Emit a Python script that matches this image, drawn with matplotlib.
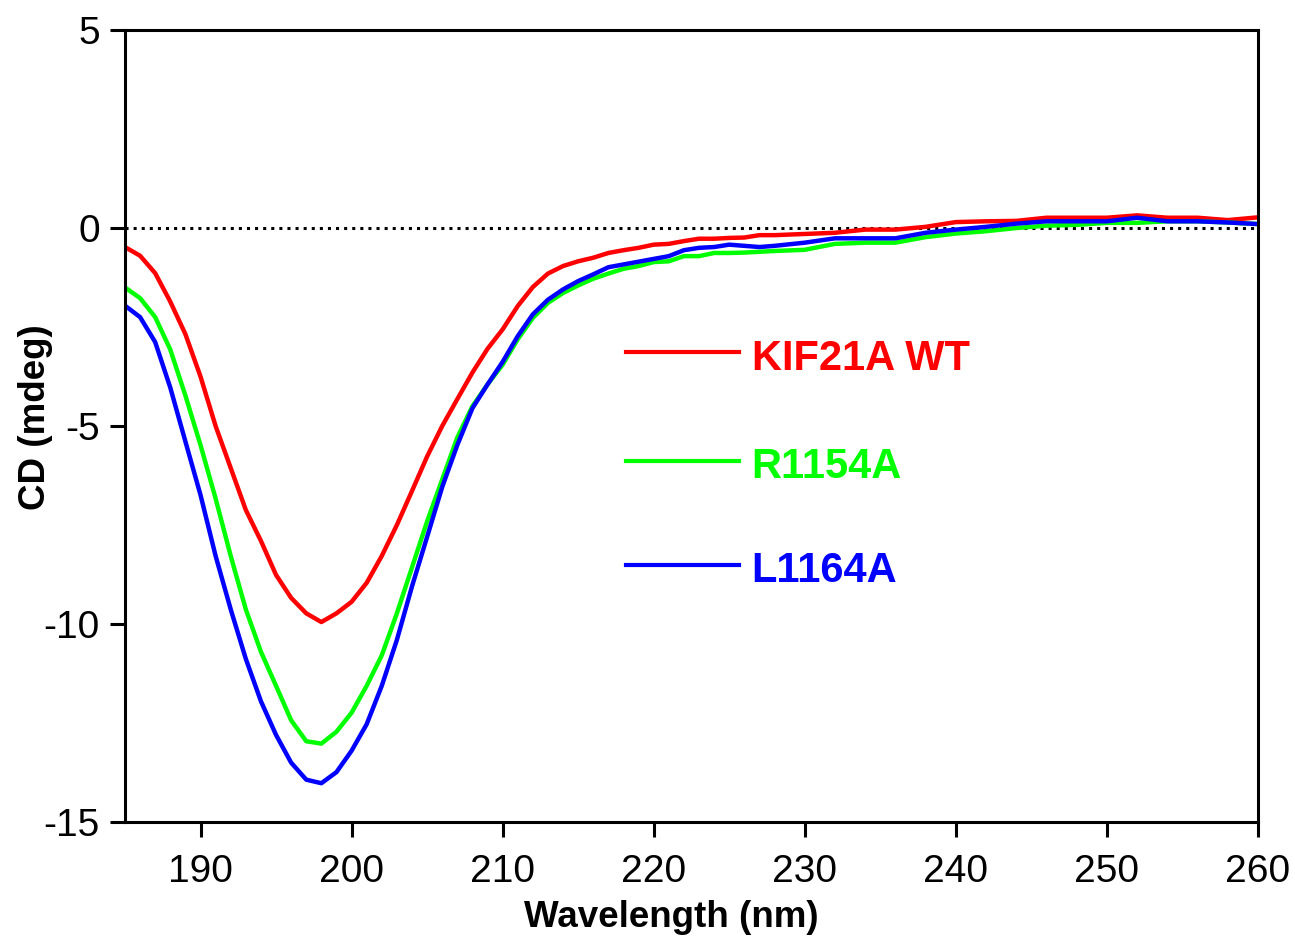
import numpy as np
import matplotlib
matplotlib.use('Agg')
import matplotlib.pyplot as plt

plt.rcParams['font.family'] = ['Liberation Sans', 'DejaVu Sans']
plt.rcParams['axes.unicode_minus'] = False

# Wavelength (nm)
wavelength = [185, 186, 187, 188, 189, 190, 191, 192, 193, 194, 195, 196, 197, 198,
              199, 200, 201, 202, 203, 204, 205, 206, 207, 208, 209, 210, 211, 212,
              213, 214, 215, 216, 217, 218, 219, 220, 221, 222, 223, 224, 225, 226,
              227, 228, 230, 232, 234, 236, 238, 240, 242, 244, 246, 248, 250, 252,
              254, 256, 258, 260]

# CD signal (mdeg)
wt = [-0.48, -0.70, -1.14, -1.86, -2.68, -3.75, -5.00, -6.06, -7.12, -7.90, -8.76, -9.34,
      -9.73, -9.95, -9.73, -9.44, -8.96, -8.28, -7.50, -6.64, -5.77, -5.00, -4.32, -3.65,
      -3.05, -2.56, -1.97, -1.49, -1.15, -0.96, -0.84, -0.75, -0.63, -0.56, -0.50, -0.42,
      -0.40, -0.33, -0.27, -0.27, -0.25, -0.24, -0.18, -0.18, -0.15, -0.12, -0.04, -0.04,
      0.03, 0.15, 0.17, 0.18, 0.26, 0.26, 0.26, 0.32, 0.26, 0.26, 0.20, 0.27]

r1154a = [-1.50, -1.77, -2.25, -3.07, -4.23, -5.48, -6.83, -8.28, -9.63, -10.70, -11.56,
          -12.43, -12.96, -13.02, -12.72, -12.24, -11.56, -10.79, -9.73, -8.57, -7.41,
          -6.35, -5.29, -4.50, -3.95, -3.45, -2.81, -2.27, -1.89, -1.64, -1.45, -1.28,
          -1.15, -1.03, -0.96, -0.86, -0.84, -0.71, -0.71, -0.63, -0.63, -0.62, -0.60,
          -0.58, -0.55, -0.40, -0.37, -0.37, -0.23, -0.14, -0.08, 0.00, 0.06, 0.08, 0.13,
          0.13, 0.17, 0.17, 0.14, 0.10]

l1164a = [-1.96, -2.25, -2.88, -4.03, -5.39, -6.74, -8.28, -9.63, -10.88, -11.95, -12.80,
          -13.50, -13.93, -14.02, -13.74, -13.20, -12.53, -11.56, -10.40, -9.05, -7.80,
          -6.54, -5.48, -4.55, -3.95, -3.38, -2.73, -2.18, -1.81, -1.55, -1.34, -1.17,
          -0.99, -0.92, -0.85, -0.78, -0.71, -0.56, -0.50, -0.48, -0.42, -0.45, -0.48,
          -0.45, -0.37, -0.26, -0.26, -0.26, -0.12, -0.04, 0.03, 0.11, 0.17, 0.17, 0.17,
          0.26, 0.17, 0.17, 0.14, 0.10]

labels = ['KIF21A WT', 'R1154A', 'L1164A']
colors = ['#ff0000', '#00ff00', '#0000ff']
series = [wt, r1154a, l1164a]

fig = plt.figure(figsize=(12.95, 9.44), dpi=100)
ax = fig.add_axes([0.0965, 0.1292, 0.8749, 0.839])

ax.axhline(0, color='black', linestyle=':', linewidth=2.2, zorder=1)
for y, c in zip(series, colors):
    ax.plot(wavelength, y, color=c, linewidth=3.2, zorder=2)

ax.set_xlim(185, 260)
ax.set_ylim(-15, 5)
ax.set_xticks([190, 200, 210, 220, 230, 240, 250, 260])
ax.set_yticks([-15, -10, -5, 0, 5])

for s in ax.spines.values():
    s.set_linewidth(2.2)
ax.tick_params(direction='out', length=11, width=2.2, labelsize=28,
               top=False, right=False)
ax.tick_params(axis='x', pad=12)
ax.tick_params(axis='y', pad=7)

ax.set_xlabel('Wavelength (nm)', fontsize=26.5, fontweight='bold', va='center')
ax.set_ylabel('CD (mdeg)', fontsize=26.5, fontweight='bold', va='center')
ax.xaxis.set_label_coords(0.482, -0.121)
ax.yaxis.set_label_coords(-0.0794, 0.511)

# hand-drawn legend inside the axes
leg_line_x = (0.442, 0.542)
leg_text_x = 0.553
leg_y = [0.593, 0.456, 0.325]
for lab, c, yy in zip(labels, colors, leg_y):
    ax.plot(leg_line_x, [yy, yy], color=c, linewidth=3, transform=ax.transAxes)
    ax.text(leg_text_x, yy - 0.008, lab, color=c, fontsize=30, fontweight='bold',
            va='center', ha='left', transform=ax.transAxes)

fig.savefig('out.png', dpi=100)
